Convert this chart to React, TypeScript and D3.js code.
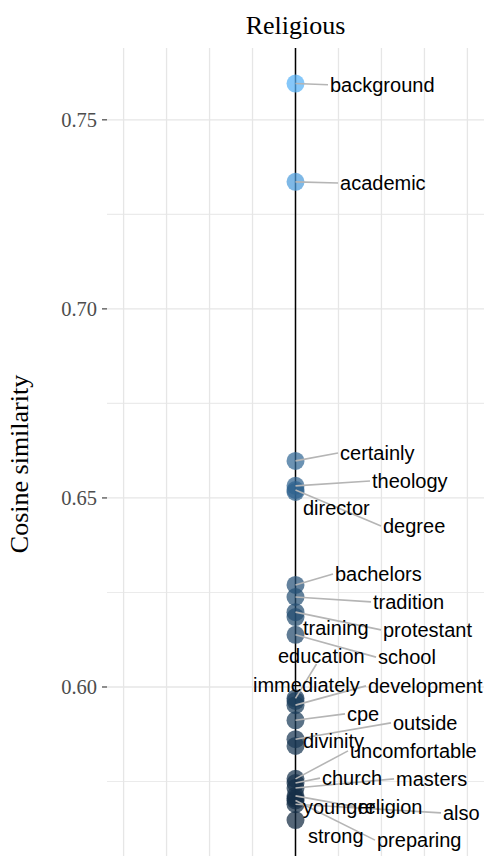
import React from "react";
import * as d3 from "d3";

const title = "Religious";
const yAxisTitle = "Cosine similarity";
const yTicks = [0.6, 0.65, 0.7, 0.75];
const yMinor = [0.575, 0.625, 0.675, 0.725];
const xGrid = [-1, -0.75, -0.5, -0.25, 0, 0.25, 0.5, 0.75, 1];

const words = [
  "background", "academic", "certainly", "theology", "director", "degree",
  "bachelors", "tradition", "training", "protestant", "education", "school",
  "immediately", "development", "cpe", "outside", "divinity", "uncomfortable",
  "church", "masters", "younger", "religion", "also", "strong", "preparing",
];
const similarity = [
  0.7596, 0.7336, 0.6598, 0.6532, 0.6516, 0.6521,
  0.6270, 0.6238, 0.6185, 0.6198, 0.5970, 0.6138,
  0.5963, 0.5952, 0.5912, 0.5862, 0.5844, 0.5757,
  0.5746, 0.5733, 0.5705, 0.5712, 0.5690, 0.5648, 0.5700,
];
// repelled label anchors (left edge, vertical centre) in data units
const labelX = [
  0.2007, 0.259, 0.259, 0.445, 0.0436, 0.509,
  0.2298, 0.4508, 0.0436, 0.509, -0.1018, 0.48,
  -0.2472, 0.4217, 0.2996, 0.567, 0.0436, 0.317,
  0.154, 0.585, 0.0436, 0.3636, 0.858, 0.0727, 0.474,
];
const labelY = [
  0.7593, 0.7333, 0.6619, 0.6545, 0.6474, 0.6426,
  0.6299, 0.6225, 0.6156, 0.6151, 0.6082, 0.6079,
  0.6005, 0.6003, 0.5929, 0.5905, 0.5857, 0.5831,
  0.5759, 0.5757, 0.5683, 0.5683, 0.5667, 0.5606, 0.5595,
];

const W = 484;
const H = 856;
const panel = { left: 107, right: 484, top: 48, bottom: 856 };
const SANS = "'Liberation Sans', Arial, sans-serif";
const SERIF = "'Liberation Serif', 'Times New Roman', serif";
const LABEL_SIZE = 20;

let ctx: CanvasRenderingContext2D | null = null;
function measure(t: string): number {
  if (!ctx) {
    const c = document.createElement("canvas");
    ctx = c.getContext("2d");
  }
  if (!ctx) return t.length * LABEL_SIZE * 0.55;
  ctx.font = `${LABEL_SIZE}px ${SANS}`;
  return ctx.measureText(t).width;
}

export default function App() {
  const x = d3.scaleLinear().domain([-1.0965, 1.0965]).range([panel.left, panel.right]);
  const y = d3.scaleLinear().domain([0.5553, 0.769]).range([panel.bottom, panel.top]);
  const color = d3
    .scaleLinear<string>()
    .domain([d3.min(similarity) as number, d3.max(similarity) as number])
    .range(["#132B43", "#56B1F7"])
    .interpolate(d3.interpolateLab);

  const points = words.map((w, i) => {
    const px = x(0);
    const py = y(similarity[i]);
    const lx = x(labelX[i]);
    const ly = y(labelY[i]);
    const tw = measure(w);
    const hh = 8;
    let ex: number, ey: number;
    if (lx > px + 2) {
      ex = lx - 2;
      ey = ly;
    } else {
      const cx = lx + tw / 2;
      const cy = ly;
      const dx = cx - px;
      const dy = cy - py;
      const edgeY = dy < 0 ? cy + hh : cy - hh;
      const t = dy !== 0 ? (edgeY - py) / dy : 0;
      ex = px + t * dx;
      ey = edgeY;
    }
    const len = Math.hypot(ex - px, ey - py);
    return { w, px, py, lx, ly, ex, ey, len, v: similarity[i] };
  });

  return (
    <svg
      width={W}
      height={H}
      style={{ position: "absolute", left: 0, top: 0, display: "block", background: "#fff" }}
    >
      <defs>
        <clipPath id="panel">
          <rect x={panel.left} y={panel.top} width={panel.right - panel.left} height={panel.bottom - panel.top} />
        </clipPath>
      </defs>
      {/* grid */}
      <g>
        {yMinor.map((v) => (
          <line key={"mi" + v} x1={panel.left} x2={panel.right} y1={y(v)} y2={y(v)} stroke="#ebebeb" strokeWidth={1.1} />
        ))}
        {yTicks.map((v) => (
          <line key={"ma" + v} x1={panel.left} x2={panel.right} y1={y(v)} y2={y(v)} stroke="#e6e6e6" strokeWidth={1.3} />
        ))}
        {xGrid.map((v) => (
          <line key={"x" + v} x1={x(v)} x2={x(v)} y1={panel.top} y2={panel.bottom} stroke="#e6e6e6" strokeWidth={1.3} />
        ))}
      </g>
      {/* zero line */}
      <line x1={x(0)} x2={x(0)} y1={panel.top} y2={panel.bottom} stroke="#000" strokeWidth={1.5} />
      {/* y axis ticks */}
      <g>
        {yTicks.map((v) => (
          <g key={"t" + v}>
            <line x1={panel.left - 5} x2={panel.left} y1={y(v)} y2={y(v)} stroke="#333" strokeWidth={1.1} />
            <text
              x={panel.left - 10}
              y={y(v)}
              dy="0.34em"
              textAnchor="end"
              fontFamily={SERIF}
              fontSize={20.5}
              fill="#4d4d4d"
            >
              {d3.format(".2f")(v)}
            </text>
          </g>
        ))}
      </g>
      <text
        transform={`translate(28, ${(panel.top + panel.bottom) / 2 + 12}) rotate(-90)`}
        textAnchor="middle"
        fontFamily={SERIF}
        fontSize={26}
        fill="#000"
      >
        {yAxisTitle}
      </text>
      <text x={x(0)} y={34} textAnchor="middle" fontFamily={SERIF} fontSize={26} fill="#000">
        {title}
      </text>
      {/* points */}
      <g clipPath="url(#panel)">
        {points.map((p) => (
          <circle key={"c" + p.w} cx={p.px} cy={p.py} r={9} fill={color(p.v)} fillOpacity={0.72} />
        ))}
      </g>
      {/* segments */}
      <g>
        {points
          .filter((p) => p.len > 22)
          .map((p) => (
            <line key={"s" + p.w} x1={p.px} y1={p.py} x2={p.ex} y2={p.ey} stroke="#b5b5b5" strokeWidth={1.6} />
          ))}
      </g>
      {/* labels */}
      <g>
        {points.map((p) => (
          <text key={"l" + p.w} x={p.lx} y={p.ly} dy="0.35em" fontFamily={SANS} fontSize={LABEL_SIZE} fill="#000">
            {p.w}
          </text>
        ))}
      </g>
    </svg>
  );
}
